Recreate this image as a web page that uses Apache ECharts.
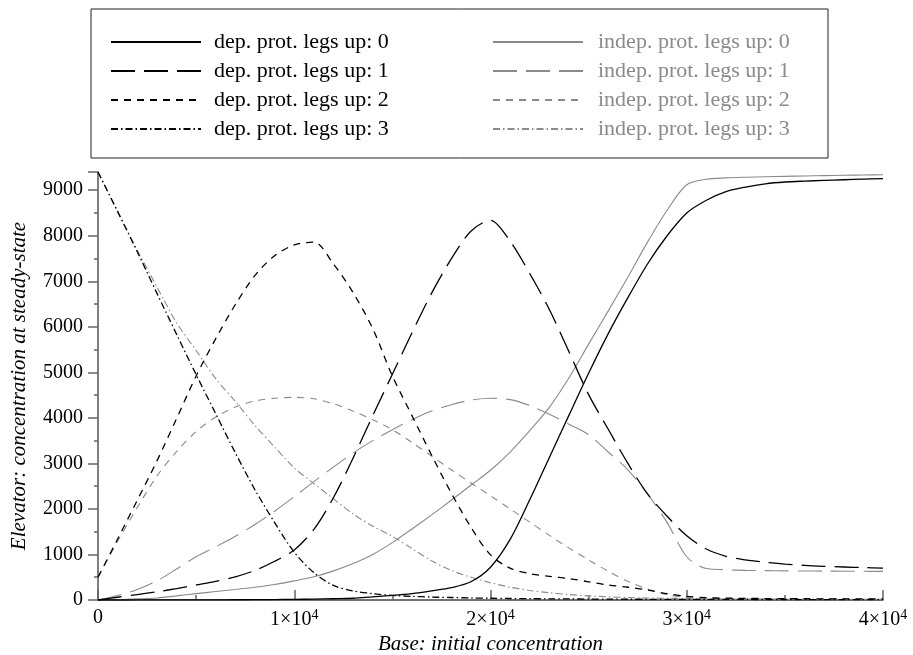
<!DOCTYPE html>
<html>
<head>
<meta charset="utf-8">
<script src="https://cdn.jsdelivr.net/npm/echarts@6/dist/echarts.min.js"></script>
<style>
  html, body { margin: 0; padding: 0; background: #fff; }
  #chart { width: 913px; height: 655px; }
</style>
</head>
<body>
<div id="chart"></div>
<script>
const chartDom = document.getElementById("chart");
let myChart = echarts.init(chartDom);

/** x positions: initial base concentration */
const xs = [0, 1000, 2000, 3000, 4000, 5000, 6000, 7000, 8000, 9000,
  10000, 11000, 12000, 13000, 14000, 15000, 16000, 17000, 18000, 19000,
  20000, 21000, 22000, 23000, 24000, 25000, 26000, 27000, 28000, 29000,
  30000, 31000, 32000, 33000, 34000, 35000, 36000, 37000, 38000, 39000, 40000];

/** dependent protonation */
const dep0 = [0, 0, 1, 1, 2, 3, 4, 5, 7, 10,
  14, 19, 27, 38, 70, 100, 140, 200, 270, 400,
  720, 1330, 2200, 3130, 4060, 4980, 5850, 6640, 7380, 8000,
  8500, 8780, 8970, 9070, 9140, 9180, 9200, 9215, 9230, 9242, 9254];
const dep1 = [0, 60, 120, 180, 250, 330, 410, 510, 650, 850,
  1100, 1550, 2250, 3120, 4050, 4960, 5870, 6740, 7490, 8100,
  8340, 7880, 7170, 6380, 5450, 4510, 3750, 3000, 2330, 1840,
  1410, 1120, 960, 880, 830, 790, 760, 740, 725, 712, 702];
const dep2 = [500, 1340, 2190, 3050, 3980, 4920, 5740, 6490, 7130, 7560,
  7800, 7860, 7380, 6750, 5960, 4920, 4050, 3180, 2350, 1600,
  990, 700, 580, 520, 470, 400, 330, 280, 220, 140,
  80, 50, 40, 35, 32, 30, 28, 26, 25, 24, 23];
const dep3 = [9400, 8530, 7650, 6740, 5840, 4950, 4090, 3230, 2420, 1700,
  1050, 600, 320, 200, 140, 100, 80, 65, 55, 45,
  38, 33, 29, 26, 23, 21, 19, 17, 16, 15,
  14, 13, 12, 12, 11, 11, 10, 10, 10, 9, 9];

/** independent protonation */
const indep0 = [0, 10, 25, 45, 90, 140, 185, 230, 280, 340,
  420, 510, 640, 800, 1000, 1260, 1560, 1870, 2190, 2520,
  2850, 3250, 3720, 4230, 4880, 5620, 6350, 7090, 7860, 8560,
  9120, 9240, 9270, 9285, 9295, 9305, 9313, 9320, 9327, 9334, 9340];
const indep1 = [0, 100, 230, 420, 680, 950, 1170, 1400, 1660, 1950,
  2270, 2600, 2920, 3230, 3500, 3740, 3960, 4150, 4290, 4390,
  4430, 4400, 4270, 4080, 3860, 3630, 3250, 2860, 2330, 1700,
  950, 690, 665, 650, 645, 640, 637, 635, 632, 630, 628];
const indep2 = [500, 1290, 2030, 2720, 3260, 3700, 4020, 4240, 4370, 4430,
  4450, 4420, 4310, 4150, 3960, 3740, 3460, 3160, 2860, 2570,
  2290, 2000, 1710, 1420, 1140, 880, 630, 410, 240, 120,
  55, 30, 25, 22, 20, 20, 19, 19, 18, 18, 18];
const indep3 = [9400, 8540, 7680, 6880, 6090, 5480, 4860, 4360, 3830, 3360,
  2900, 2560, 2220, 1890, 1620, 1400, 1130, 860, 650, 500,
  380, 280, 210, 160, 120, 90, 70, 55, 45, 38,
  32, 28, 25, 22, 20, 18, 17, 16, 15, 14, 13];

const depNames = ["dep. prot. legs up: 0", "dep. prot. legs up: 1",
  "dep. prot. legs up: 2", "dep. prot. legs up: 3"];
const indepNames = ["indep. prot. legs up: 0", "indep. prot. legs up: 1",
  "indep. prot. legs up: 2", "indep. prot. legs up: 3"];

const depSets = [dep0, dep1, dep2, dep3];
const indepSets = [indep0, indep1, indep2, indep3];

// solid, long dash, short dash, dash-dot
const dashes = ["solid", [24, 9], [7, 6], [7, 3, 1.5, 3]];

const serif = "'Liberation Serif', 'DejaVu Serif', serif";

function makeSeries(name, ys, color, width, dash, z) {
  return {
    name: name,
    type: "line",
    symbol: "none",
    smooth: 0.3,
    z: z,
    lineStyle: { color: color, width: width, type: dash },
    itemStyle: { color: color },
    data: xs.map((x, i) => [x, ys[i]])
  };
}

let series = [];
indepSets.forEach((ys, i) => {
  series.push(makeSeries(indepNames[i], ys, "#8a8a8a", 1.1, dashes[i], 2));
});
depSets.forEach((ys, i) => {
  series.push(makeSeries(depNames[i], ys, "#000", 1.3, dashes[i], 3));
});

const legendBase = {
  orient: "vertical",
  top: 31,
  itemWidth: 90,
  itemHeight: 20,
  itemGap: 7,
  selectedMode: false,
  padding: 0,
  itemStyle: { opacity: 0 }
};

let option = {
  backgroundColor: "#fff",
  animation: false,
  graphic: [{
    type: "rect",
    shape: { x: 91, y: 9, width: 737, height: 149 },
    style: { fill: "none", stroke: "#222", lineWidth: 1 }
  }],
  legend: [
    Object.assign({}, legendBase, {
      left: 110,
      data: depNames,
      textStyle: { fontFamily: serif, fontSize: 22, color: "#000", padding: [0, 0, 0, 8] }
    }),
    Object.assign({}, legendBase, {
      left: 492,
      data: indepNames,
      textStyle: { fontFamily: serif, fontSize: 22, color: "#8a8a8a", padding: [0, 0, 0, 10] }
    })
  ],
  grid: { left: 98, right: 30, top: 172, bottom: 55, outerBoundsMode: "none", containLabel: false },
  xAxis: {
    type: "value",
    min: 0,
    max: 40000,
    interval: 10000,
    name: "Base: initial concentration",
    nameLocation: "middle",
    nameGap: 31,
    nameTextStyle: { fontFamily: serif, fontSize: 21, fontStyle: "italic", color: "#000" },
    axisLine: { onZero: false, lineStyle: { color: "#444", width: 1.5 } },
    axisTick: { inside: true, length: 10, lineStyle: { color: "#666", width: 1.5 } },
    minorTick: { show: true, splitNumber: 2, length: 5, lineStyle: { color: "#666", width: 1.5 } },
    splitLine: { show: false },
    axisLabel: {
      margin: 8,
      color: "#000",
      fontFamily: serif,
      fontSize: 20,
      formatter: v => v === 0 ? "{n|0}" : "{n|" + (v / 10000) + "×10}{s|4}",
      rich: {
        n: { fontFamily: serif, fontSize: 20, color: "#000" },
        s: { fontFamily: serif, fontSize: 14, color: "#000", padding: [0, 0, 9, 0] }
      }
    }
  },
  yAxis: {
    type: "value",
    min: 0,
    max: 9400,
    interval: 1000,
    name: "Elevator: concentration at steady-state",
    nameLocation: "middle",
    nameGap: 68,
    nameTextStyle: { fontFamily: serif, fontSize: 21, fontStyle: "italic", color: "#000" },
    axisLine: { show: true, lineStyle: { color: "#555", width: 1.5 } },
    axisTick: { show: true, length: 10, lineStyle: { color: "#666", width: 1.5 } },
    minorTick: { show: true, splitNumber: 2, length: 4, lineStyle: { color: "#666", width: 1.5 } },
    splitLine: { show: false },
    axisLabel: {
      margin: 15,
      color: "#000",
      fontFamily: serif,
      fontSize: 20,
      showMaxLabel: false,
      formatter: v => String(v)
    }
  },
  series: series
};

option && myChart.setOption(option);
</script>
</body>
</html>
